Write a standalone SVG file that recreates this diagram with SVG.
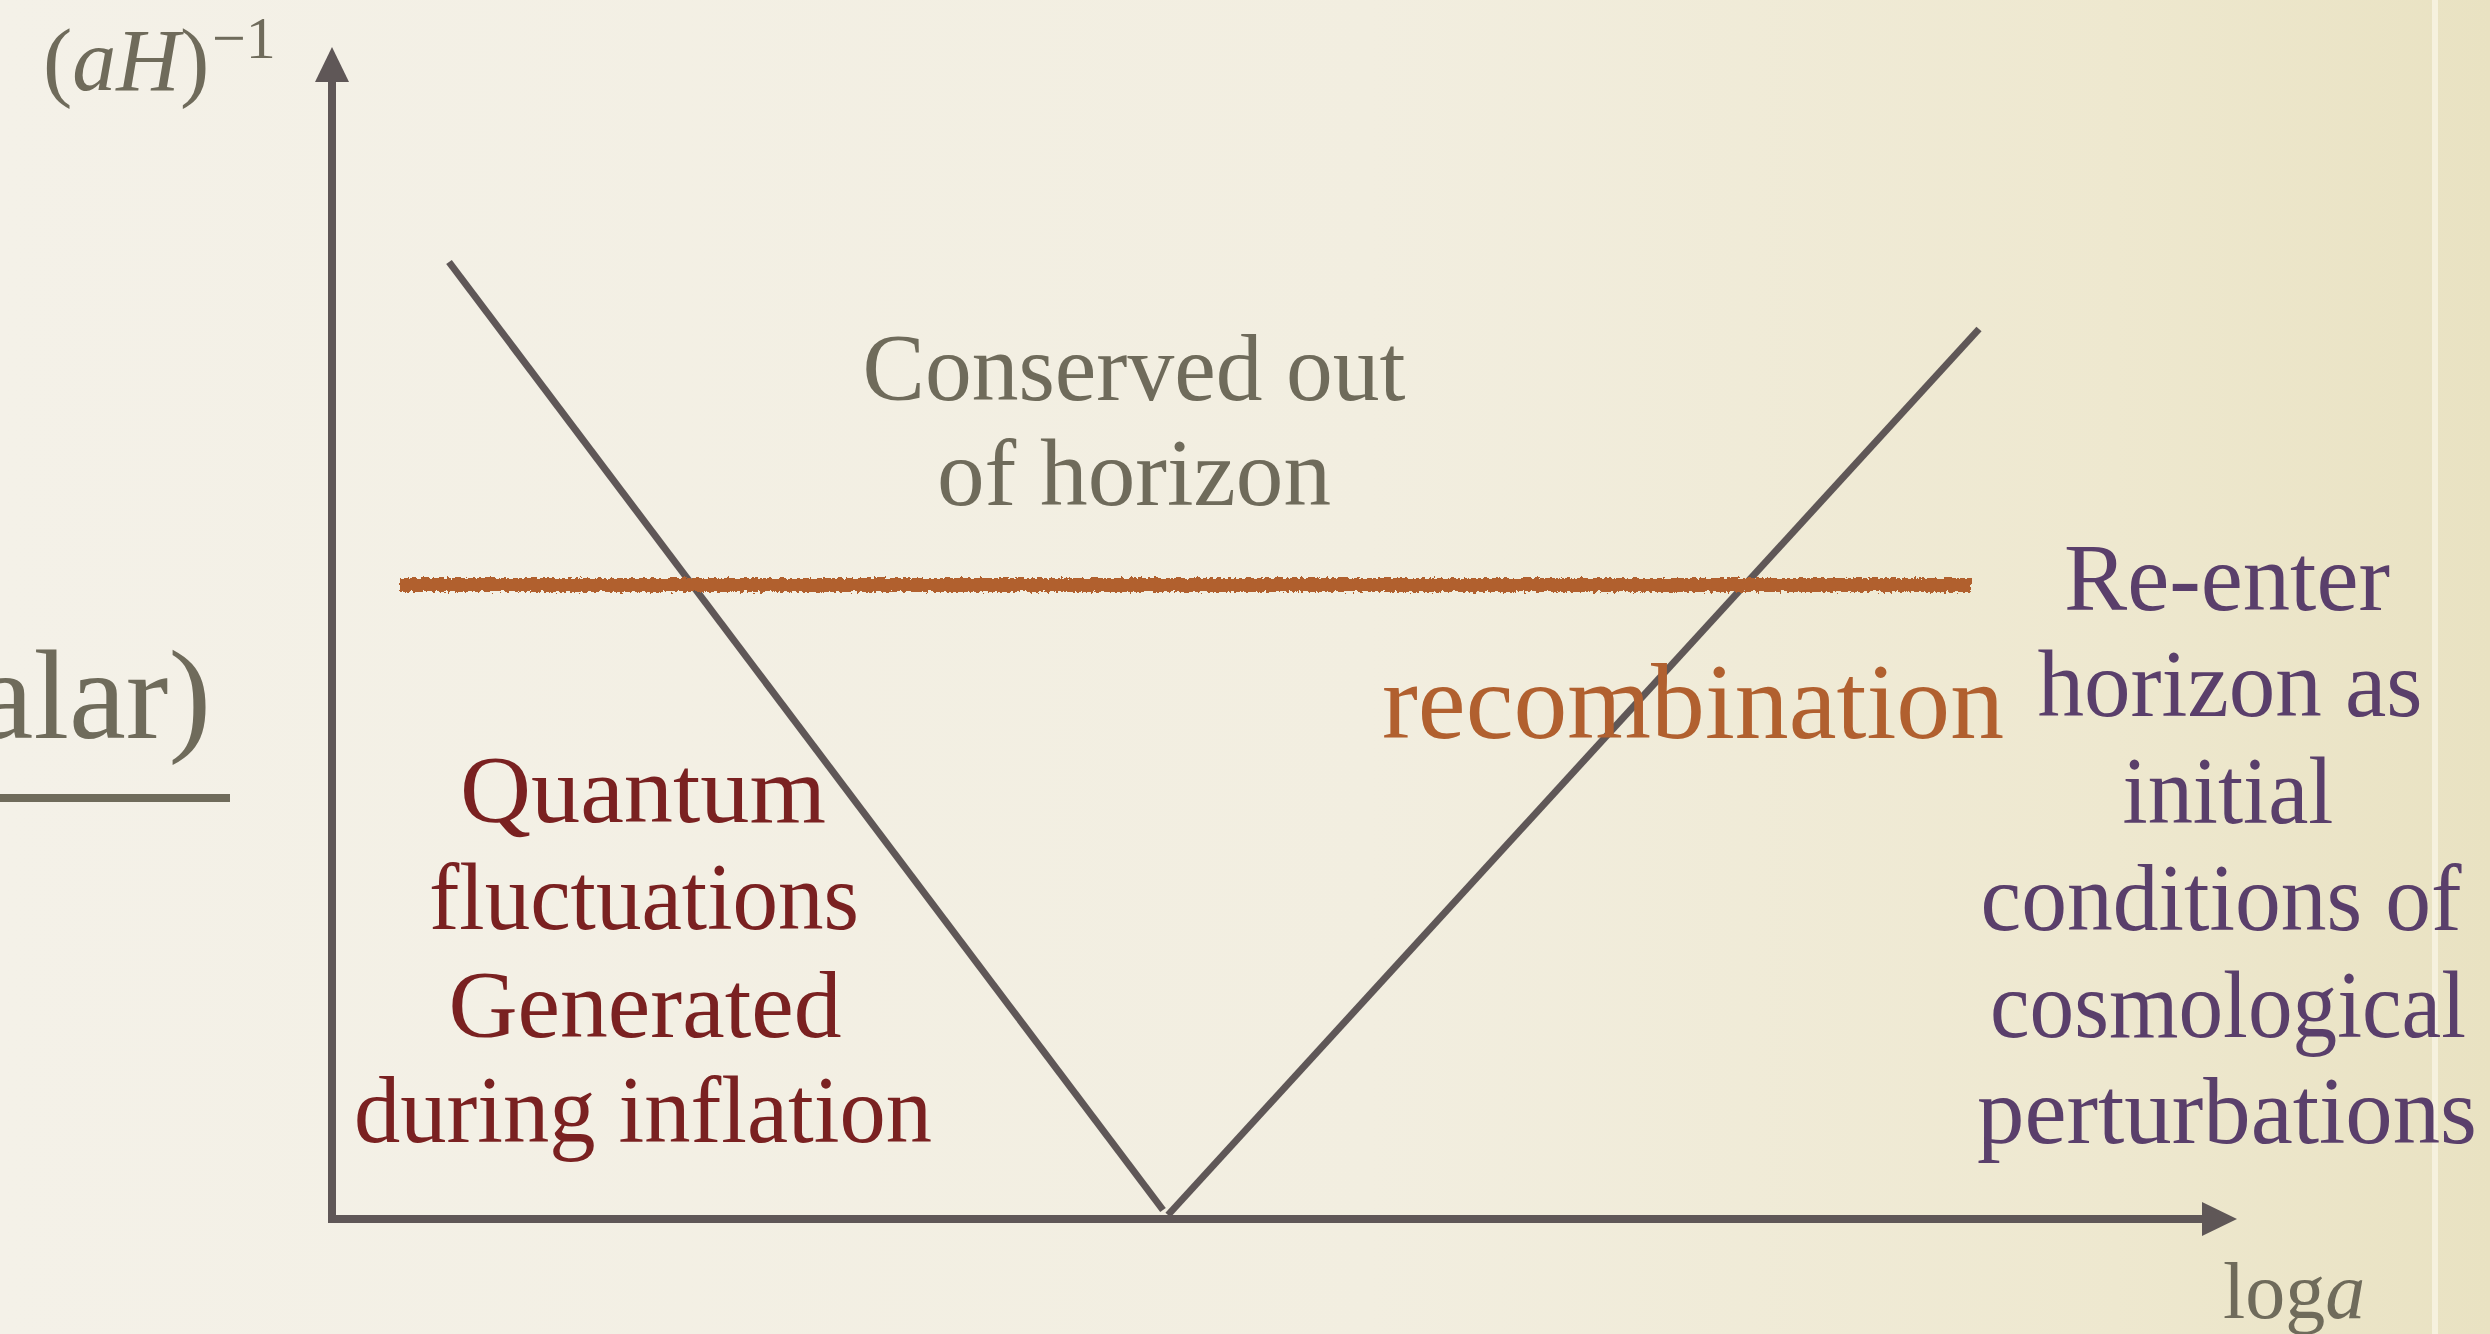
<svg xmlns="http://www.w3.org/2000/svg" width="2490" height="1334" viewBox="0 0 2490 1334">
<style>
  text { font-family: "Liberation Serif", "Times New Roman", serif; }
  .grey { fill: #6f6b5b; }
  .red { fill: #7a2121; font-size: 96px; }
  .purple { fill: #5a3f6b; font-size: 96px; }
  .orange { fill: #b1602f; }
  .axis { stroke: #5f5757; stroke-width: 8; fill: none; }
  .diag { stroke: #5f5757; stroke-width: 7; fill: none; stroke-linecap: butt; }
</style>
<defs>
  <linearGradient id="bg" x1="0" y1="0" x2="1" y2="0">
    <stop offset="0" stop-color="#f4f1e8"/>
    <stop offset="0.55" stop-color="#f2eee0"/>
    <stop offset="0.85" stop-color="#eee8cf"/>
    <stop offset="1" stop-color="#e9e2c2"/>
  </linearGradient>
  <marker id="arrow" markerUnits="userSpaceOnUse" markerWidth="36" markerHeight="36" refX="1" refY="17" orient="auto">
    <path d="M0,0 L35,17 L0,34 z" fill="#5f5757"/>
  </marker>
  <filter id="rough" filterUnits="userSpaceOnUse" x="380" y="560" width="1620" height="50">
    <feTurbulence type="fractalNoise" baseFrequency="0.3" numOctaves="2" seed="3" result="n"/>
    <feDisplacementMap in="SourceGraphic" in2="n" scale="7" xChannelSelector="R" yChannelSelector="G"/>
  </filter>
</defs>
<rect x="0" y="0" width="2490" height="1334" fill="url(#bg)"/>
<rect x="2432" y="0" width="6" height="1334" fill="#f6f1de"/>

<g id="connectors">
  <line class="axis" x1="332" y1="1223" x2="332" y2="81" marker-end="url(#arrow)"/>
  <line class="axis" x1="328" y1="1219" x2="2203" y2="1219" marker-end="url(#arrow)"/>
  <line class="diag" x1="449" y1="262" x2="1163" y2="1210"/>
  <line class="diag" x1="1168" y1="1215" x2="1979" y2="329"/>
  <rect x="400" y="578" width="1572" height="14" fill="#b1602f" filter="url(#rough)"/>
  <rect x="0" y="794" width="230" height="8" fill="#6f6b5b"/>
</g>

<g id="y-label">
  <text class="grey" x="43" y="90" font-size="88">(<tspan font-style="italic">aH</tspan>)</text>
  <text class="grey" x="212" y="58" font-size="60">−1</text>
</g>
<g id="x-label">
  <text class="grey" x="2223" y="1318" font-size="80">log<tspan font-style="italic">a</tspan></text>
</g>
<g id="title-fragment">
  <text class="grey" x="211" y="738" font-size="128" text-anchor="end">alar)</text>
</g>
<g id="conserved">
  <text class="grey" x="1134" y="400" font-size="95" text-anchor="middle" textLength="543" lengthAdjust="spacingAndGlyphs">Conserved out</text>
  <text class="grey" x="1134" y="505" font-size="95" text-anchor="middle" textLength="394" lengthAdjust="spacingAndGlyphs">of  horizon</text>
</g>
<g id="recombination">
  <text class="orange" x="1693" y="738" font-size="108" text-anchor="middle" textLength="622" lengthAdjust="spacingAndGlyphs">recombination</text>
</g>
<g id="quantum">
  <text class="red" x="643" y="822" text-anchor="middle" textLength="366" lengthAdjust="spacingAndGlyphs">Quantum</text>
  <text class="red" x="644" y="929" text-anchor="middle" textLength="430" lengthAdjust="spacingAndGlyphs">fluctuations</text>
  <text class="red" x="645" y="1037" text-anchor="middle" textLength="393" lengthAdjust="spacingAndGlyphs">Generated</text>
  <text class="red" x="643" y="1142" text-anchor="middle" textLength="578" lengthAdjust="spacingAndGlyphs">during inflation</text>
</g>
<g id="reenter">
  <text class="purple" x="2227" y="610" text-anchor="middle" textLength="326" lengthAdjust="spacingAndGlyphs">Re-enter</text>
  <text class="purple" x="2230" y="716" text-anchor="middle" textLength="385" lengthAdjust="spacingAndGlyphs">horizon as</text>
  <text class="purple" x="2228" y="823" text-anchor="middle" textLength="211" lengthAdjust="spacingAndGlyphs">initial</text>
  <text class="purple" x="2221" y="930" text-anchor="middle" textLength="481" lengthAdjust="spacingAndGlyphs">conditions of</text>
  <text class="purple" x="2228" y="1037" text-anchor="middle" textLength="476" lengthAdjust="spacingAndGlyphs">cosmological</text>
  <text class="purple" x="2227" y="1143" text-anchor="middle" textLength="500" lengthAdjust="spacingAndGlyphs">perturbations</text>
</g>
</svg>
